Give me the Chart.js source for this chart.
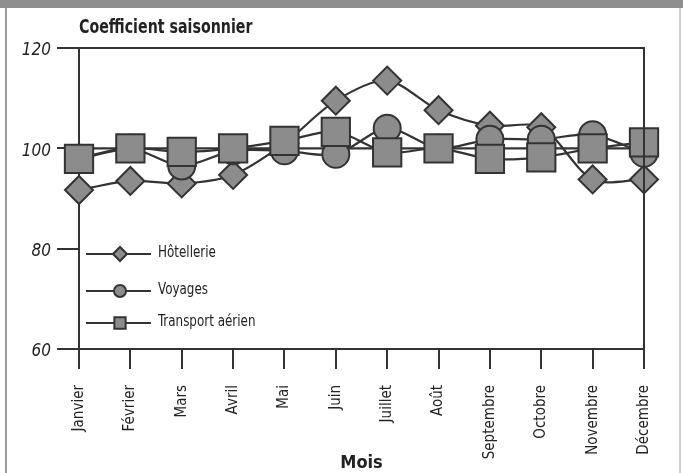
<!DOCTYPE html>
<html><head><meta charset="utf-8">
<script src="https://cdn.jsdelivr.net/npm/chart.js@4/dist/chart.umd.min.js"></script>
<style>html,body{margin:0;padding:0;background:#fff}#wrap{width:683px;height:473px;position:relative}canvas{display:block}</style>
</head><body><div id="wrap"><canvas id="c" width="683" height="473"></canvas></div>
<script>
const months = ['Janvier','Février','Mars','Avril','Mai','Juin','Juillet','Août','Septembre','Octobre','Novembre','Décembre'];
const hotellerie = [91.7, 93.5, 93.0, 94.7, 101.0, 109.5, 113.5, 107.6, 104.5, 104.2, 93.8, 93.8];
const voyages = [98.0, 100.0, 96.5, 99.5, 99.5, 98.8, 104.0, 100.0, 101.8, 101.8, 102.7, 99.0];
const transportAerien = [97.9, 100.0, 99.3, 100.0, 101.5, 103.3, 99.2, 100.0, 97.9, 98.2, 100.0, 101.2];
const referenceLevel = 100;
const yTicks = [60, 80, 100, 120];
const seriesNames = ['Hôtellerie', 'Voyages', 'Transport aérien'];

const FONT = "'Liberation Sans Narrow', 'DejaVu Sans Condensed', 'Arial Narrow', sans-serif";
const INK = '#333333';
const FILL = '#8c8c8c';

const seriesStyles = [
  {pointStyle: 'rectRot', radius: 14, legendRadius: 7},
  {pointStyle: 'circle', radius: 13.5, legendRadius: 6},
  {pointStyle: 'rect', radius: 20, legendRadius: 8}
];

function mkSeries(label, data, idx, order) {
  const st = seriesStyles[idx];
  return {
    label, data, order,
    borderColor: INK, borderWidth: 2.2,
    pointStyle: st.pointStyle, pointRadius: st.radius, pointHoverRadius: st.radius,
    pointBackgroundColor: FILL, pointBorderColor: INK, pointBorderWidth: 2,
    tension: 0.3, clip: false, fill: false
  };
}

function narrowText(ctx, text, x, y, font, sx) {
  ctx.save();
  ctx.font = font;
  ctx.translate(x, y);
  ctx.scale(sx, 1);
  ctx.fillText(text, 0, 0);
  ctx.restore();
}

const framePlugin = {
  id: 'frame',
  beforeDraw(chart) {
    const ctx = chart.ctx;
    ctx.save();
    ctx.fillStyle = '#ffffff';
    ctx.fillRect(0, 0, chart.width, chart.height);
    ctx.fillStyle = '#8e8e8e';
    ctx.fillRect(0, 0, chart.width, 8);
    ctx.fillStyle = '#9c9c9c';
    ctx.fillRect(5, 8, 2, chart.height - 8);
    ctx.fillStyle = '#cfcfcf';
    ctx.fillRect(679, 8, 2, chart.height - 8);
    ctx.restore();
  },
  afterDraw(chart) {
    const ctx = chart.ctx;
    const a = chart.chartArea;
    ctx.save();
    ctx.strokeStyle = INK;
    ctx.lineWidth = 2;
    ctx.beginPath();
    ctx.moveTo(a.left, a.top);
    ctx.lineTo(a.right, a.top);
    ctx.lineTo(a.right, a.bottom);
    ctx.stroke();
    ctx.fillStyle = '#222';
    ctx.textBaseline = 'middle';
    ctx.textAlign = 'left';
    narrowText(ctx, 'Coefficient saisonnier', 79, 28, 'bold 20px ' + FONT, 0.79);
    const rows = [254, 291, 323];
    for (let i = 0; i < seriesNames.length; i++) {
      const y = rows[i];
      ctx.strokeStyle = INK;
      ctx.lineWidth = 2.2;
      ctx.beginPath();
      ctx.moveTo(86, y); ctx.lineTo(151, y); ctx.stroke();
      const st = seriesStyles[i];
      ctx.fillStyle = FILL;
      ctx.strokeStyle = INK;
      ctx.lineWidth = 2;
      Chart.helpers.drawPoint(ctx, {pointStyle: st.pointStyle, radius: st.legendRadius, borderWidth: 2, rotation: 0}, 120, y);
      ctx.fillStyle = '#222';
      narrowText(ctx, seriesNames[i], 158, y - 1, '16px ' + FONT, 0.83);
    }
    ctx.restore();
  }
};

new Chart(document.getElementById('c'), {
  type: 'line',
  data: {
    labels: months,
    datasets: [
      {label: 'Référence', data: months.map(() => referenceLevel), order: 3, borderColor: INK, borderWidth: 2.2, pointRadius: 0, pointHoverRadius: 0, tension: 0, fill: false},
      mkSeries(seriesNames[0], hotellerie, 0, 2),
      mkSeries(seriesNames[1], voyages, 1, 1),
      mkSeries(seriesNames[2], transportAerien, 2, 0)
    ]
  },
  options: {
    responsive: false,
    devicePixelRatio: 1,
    animation: false,
    events: [],
    layout: {padding: {left: 0, right: 39, top: 48, bottom: 0}},
    plugins: {legend: {display: false}, tooltip: {enabled: false}, title: {display: false}},
    scales: {
      x: {
        type: 'category',
        offset: false,
        border: {display: true, color: INK, width: 2},
        grid: {display: true, drawOnChartArea: false, drawTicks: true, tickLength: 20, color: INK, lineWidth: 2},
        ticks: {minRotation: 90, maxRotation: 90, autoSkip: false, padding: 16, color: '#222', font: {family: FONT, size: 15}},
        title: {display: true, text: 'Mois', color: '#222', font: {family: FONT, size: 18, weight: 'bold', lineHeight: 1}, padding: {top: 0, bottom: 1}},
        afterFit(s) { s.height = 124; }
      },
      y: {
        min: 60, max: 120,
        border: {display: true, color: INK, width: 2},
        grid: {display: true, drawOnChartArea: false, drawTicks: true, tickLength: 22, color: INK, lineWidth: 2},
        ticks: {padding: 6, labelOffset: 3, color: '#222', font: {family: FONT, size: 17, style: 'italic'}},
        afterBuildTicks(s) { s.ticks = yTicks.map(v => ({value: v})); },
        afterFit(s) { s.width = 79; }
      }
    }
  },
  plugins: [framePlugin]
});
</script>
</body></html>
